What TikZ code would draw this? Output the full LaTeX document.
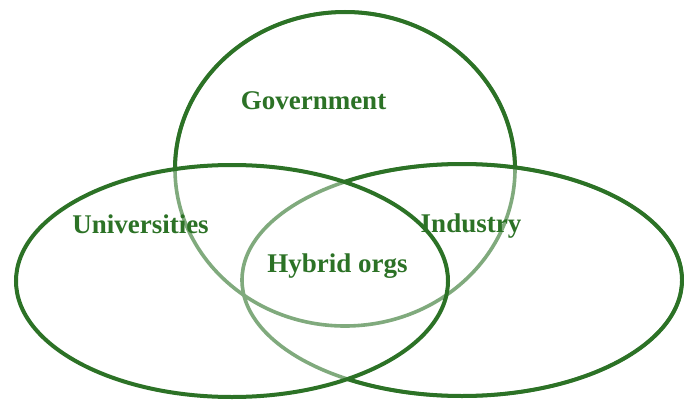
\documentclass[tikz,border=0pt]{standalone}
\usepackage{fontspec}
\setmainfont{Liberation Serif}
\definecolor{vgreen}{RGB}{44,114,38}
\colorlet{vgreenlight}{vgreen!60!white}
\begin{document}
\begin{tikzpicture}[x=1pt,y=-1pt,
  ring/.style={line width=4pt,draw=vgreen},
  ringlight/.style={line width=3.6pt,draw=vgreenlight},
  setlabel/.style={text=vgreen,font=\fontsize{27}{31}\selectfont\bfseries,inner sep=0pt,anchor=base}]
\useasboundingbox (0,0) rectangle (684,401);
\fill[white] (0,0) rectangle (684,401);
% centres of the three sets
\coordinate (gov) at (345,169);
\coordinate (uni) at (232,281);
\coordinate (ind) at (462,280);
\def\govellipse{(gov) ellipse [x radius=170, y radius=157]}
\def\uniellipse{(uni) ellipse [x radius=216, y radius=116]}
\def\indellipse{(ind) ellipse [x radius=220, y radius=116]}
% pale strokes where government and industry pass through the other sets
\draw[ringlight] \govellipse;
\draw[ringlight] \indellipse;
% government: dark only outside both lower sets
\begin{scope}[even odd rule]
  \clip (-10,-10) rectangle (694,411) \uniellipse;
  \begin{scope}[even odd rule]
    \clip (-10,-10) rectangle (694,411) \indellipse;
    \draw[ring] \govellipse;
  \end{scope}
\end{scope}
% industry: dark outside universities
\begin{scope}[even odd rule]
  \clip (-10,-10) rectangle (694,411) \uniellipse;
  \draw[ring] \indellipse;
\end{scope}
% universities: dark all round
\draw[ring] \uniellipse;
% labels
\node[setlabel] (govlabel) at (313.5,109.5) {Government};
\node[setlabel] (unilabel) at (140.5,233) {Universities};
\node[setlabel] (indlabel) at (471,232) {Industry};
\node[setlabel] (hyblabel) at (337.5,272) {Hybrid orgs};
\end{tikzpicture}
\end{document}
